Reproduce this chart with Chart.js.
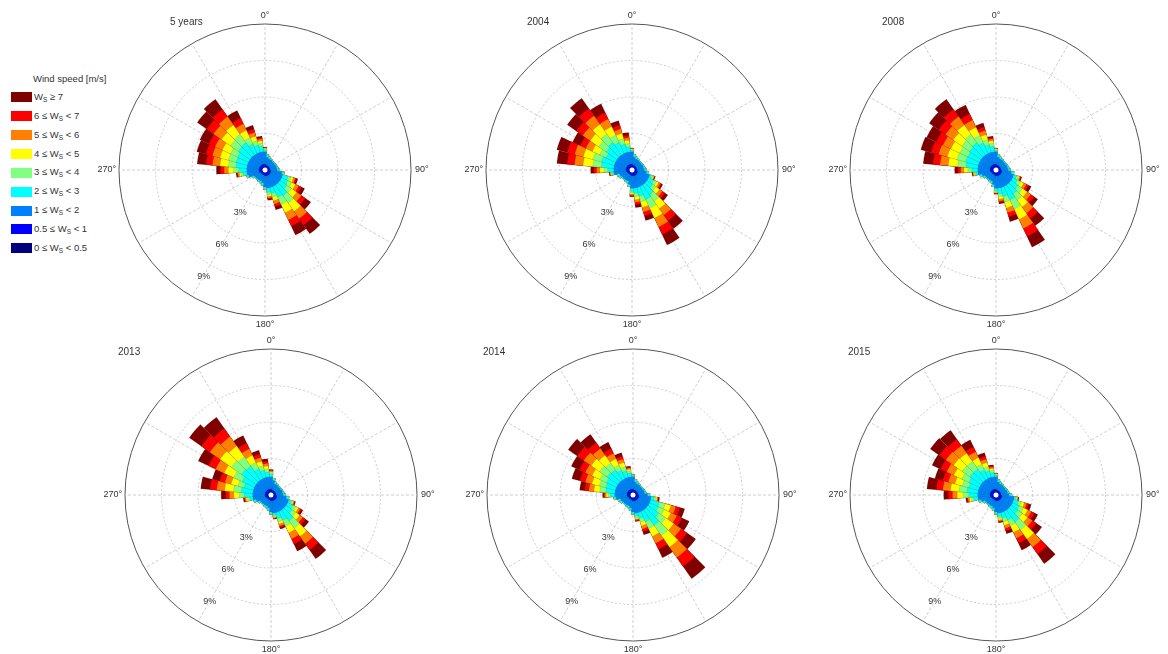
<!DOCTYPE html>
<html>
<head>
<meta charset="utf-8">
<script src="https://cdn.jsdelivr.net/npm/chart.js@4.4.1/dist/chart.umd.min.js"></script>
<style>
  html, body { margin: 0; padding: 0; background: #fff; }
  body { width: 1168px; height: 654px; position: relative; overflow: hidden;
         font-family: "Liberation Sans", Arial, sans-serif; color: #333; }
  canvas.rose { position: absolute; }
  .title { position: absolute; font-size: 10px; color: #333; }
  #legend { position: absolute; left: 0; top: 0; font-size: 9.5px; color: #333; }
  #legend .head { position: absolute; left: 33px; top: 73px; white-space: nowrap; }
  #legend .row { position: absolute; left: 11px; white-space: nowrap; height: 12px; line-height: 12px; }
  #legend .sw { display: inline-block; width: 21px; height: 10px; vertical-align: middle; margin-right: 2px; }
  #legend sub { font-size: 6.5px; vertical-align: -2px; }
</style>
</head>
<body>
<div id="legend"></div>
<script>
// direction bins (degrees, centred) and wind speed classes
const directions = [0,10,20,30,40,50,60,70,80,90,100,110,120,130,140,150,160,170,
                    180,190,200,210,220,230,240,250,260,270,280,290,300,310,320,330,340,350];
const speedLabels = ['0 ≤ W_S < 0.5','0.5 ≤ W_S < 1','1 ≤ W_S < 2','2 ≤ W_S < 3','3 ≤ W_S < 4',
                     '4 ≤ W_S < 5','5 ≤ W_S < 6','6 ≤ W_S < 7','W_S ≥ 7'];
const speedColors = ['#00007f','#0000ff','#0080ff','#00ffff','#80ff80','#ffff00','#ff8000','#ff0000','#800000'];
const freqTicks = [3, 6, 9];
const angleTicks = [0, 90, 180, 270];
const spokeAngles = [0,30,60,90,120,150,180,210,240,270,300,330];

// frequency [%] per direction bin (rows, 0..350 deg) and speed class (columns, low -> high)
const fiveYears = [
  [.15,.35,1,.14,.08,.06,.05,.04,.03], [.12,.3,.65,.18,.05,0,0,0,0], [.12,.28,.55,.15,.05,0,0,0,0],
  [.12,.28,.55,.1,0,0,0,0,0], [.12,.28,.5,.1,0,0,0,0,0], [.12,.28,.5,.1,0,0,0,0,0],
  [.12,.28,.5,.1,0,0,0,0,0], [.12,.28,.55,.1,0,0,0,0,0], [.12,.28,.55,.15,0,0,0,0,0],
  [.12,.28,.6,.15,.05,0,0,0,0], [.15,.35,.9,.12,.05,.03,0,0,0], [.15,.35,1,.46,.26,.19,.16,.12,.11],
  [.15,.35,1,.55,.36,.36,.29,.25,.29], [.15,.35,1,.68,.47,.53,.47,.4,.55], [.15,.35,1,1.08,.74,.83,.74,.64,.87],
  [.15,.35,1,.97,.66,.75,.66,.57,.79], [.15,.35,1,.49,.32,.32,.27,.23,.27], [.15,.35,1,.35,.2,.15,.12,.09,.09],
  [.15,.35,.9,.12,.05,.03,0,0,0], [.12,.3,.65,.18,.05,0,0,0,0], [.12,.28,.55,.15,.05,0,0,0,0],
  [.12,.28,.55,.15,0,0,0,0,0], [.12,.28,.55,.1,0,0,0,0,0], [.12,.28,.55,.1,0,0,0,0,0],
  [.12,.28,.6,.15,.05,0,0,0,0], [.15,.35,.9,.12,.05,.03,0,0,0], [.15,.35,1,.32,.18,.13,.11,.08,.08],
  [.15,.35,1,.65,.43,.43,.35,.3,.34], [.15,.35,1,.9,.62,.7,.62,.53,.73], [.15,.35,1,.95,.65,.73,.65,.56,.76],
  [.15,.35,1,.97,.66,.75,.66,.57,.79], [.15,.35,1,1.17,.8,.9,.8,.69,.94], [.15,.35,1,1.23,.84,.95,.84,.73,1.01],
  [.15,.35,1,.86,.59,.66,.59,.51,.69], [.15,.35,1,.6,.39,.39,.32,.28,.32], [.15,.35,1,.46,.26,.19,.16,.12,.11]
];
const year2004 = [
  [.15,.35,1,.12,.07,.05,.03,.02,.01], [.12,.3,.65,.18,.05,0,0,0,0], [.12,.28,.55,.15,.05,0,0,0,0],
  [.12,.28,.55,.1,0,0,0,0,0], [.12,.28,.5,.1,0,0,0,0,0], [.12,.28,.5,.1,0,0,0,0,0],
  [.12,.28,.5,.1,0,0,0,0,0], [.12,.28,.55,.1,0,0,0,0,0], [.12,.28,.55,.15,0,0,0,0,0],
  [.12,.28,.6,.15,.05,0,0,0,0], [.13,.32,.75,.15,.05,0,0,0,0], [.15,.35,1,.18,.1,.08,.06,.04,.04],
  [.15,.35,1,.46,.26,.19,.16,.12,.11], [.15,.35,1,.55,.36,.36,.29,.25,.29], [.15,.35,1,.97,.66,.75,.66,.57,.79],
  [.15,.35,1,1.17,.8,.9,.8,.69,.94], [.15,.35,1,.73,.48,.48,.39,.34,.38], [.15,.35,1,.42,.27,.27,.22,.19,.23],
  [.15,.35,1,.25,.14,.1,.08,.07,.06], [.13,.32,.75,.15,.05,0,0,0,0], [.12,.28,.55,.15,.05,0,0,0,0],
  [.12,.28,.55,.15,0,0,0,0,0], [.12,.28,.55,.1,0,0,0,0,0], [.12,.28,.55,.1,0,0,0,0,0],
  [.12,.28,.6,.15,.05,0,0,0,0], [.12,.3,.65,.18,.05,0,0,0,0], [.15,.35,1,.14,.08,.06,.05,.04,.03],
  [.15,.35,1,.49,.32,.32,.27,.23,.27], [.15,.35,1,1.03,.71,.8,.71,.61,.84], [.15,.35,1,1.08,.74,.83,.74,.64,.87],
  [.15,.35,1,.86,.59,.66,.59,.51,.69], [.15,.35,1,1.1,.75,.85,.75,.65,.9], [.15,.35,1,1.25,.86,.97,.86,.74,1.02],
  [.15,.35,1,.99,.68,.77,.68,.59,.79], [.15,.35,1,.7,.46,.46,.38,.32,.38], [.15,.35,1,.42,.27,.27,.22,.19,.23]
];
const year2008 = [
  [.15,.35,1,.12,.07,.05,.03,.02,.01], [.12,.3,.65,.18,.05,0,0,0,0], [.12,.28,.55,.15,.05,0,0,0,0],
  [.12,.28,.55,.1,0,0,0,0,0], [.12,.28,.5,.1,0,0,0,0,0], [.12,.28,.5,.1,0,0,0,0,0],
  [.12,.28,.5,.1,0,0,0,0,0], [.12,.28,.55,.1,0,0,0,0,0], [.12,.28,.55,.15,0,0,0,0,0],
  [.12,.28,.6,.15,.05,0,0,0,0], [.14,.33,.8,.18,.05,0,0,0,0], [.15,.35,1,.25,.14,.1,.08,.07,.06],
  [.15,.35,1,.44,.29,.29,.24,.2,.24], [.15,.35,1,.7,.46,.46,.38,.32,.38], [.15,.35,1,.9,.62,.7,.62,.53,.73],
  [.15,.35,1,1.21,.83,.94,.83,.72,.97], [.15,.35,1,.75,.49,.49,.41,.35,.41], [.15,.35,1,.46,.26,.19,.16,.12,.11],
  [.15,.35,1,.18,.1,.08,.06,.04,.04], [.13,.32,.75,.15,.05,0,0,0,0], [.12,.28,.55,.15,.05,0,0,0,0],
  [.12,.28,.55,.15,0,0,0,0,0], [.12,.28,.55,.1,0,0,0,0,0], [.12,.28,.55,.1,0,0,0,0,0],
  [.12,.28,.6,.15,.05,0,0,0,0], [.13,.32,.75,.15,.05,0,0,0,0], [.15,.35,1,.18,.1,.08,.06,.04,.04],
  [.15,.35,1,.49,.32,.32,.27,.23,.27], [.15,.35,1,.99,.68,.77,.68,.59,.79], [.15,.35,1,1.08,.74,.83,.74,.64,.87],
  [.15,.35,1,1.06,.72,.82,.72,.62,.86], [.15,.35,1,1.14,.78,.88,.78,.68,.94], [.15,.35,1,1.23,.84,.95,.84,.73,1.01],
  [.15,.35,1,.97,.66,.75,.66,.57,.79], [.15,.35,1,.65,.43,.43,.35,.3,.34], [.15,.35,1,.46,.26,.19,.16,.12,.11]
];
const year2013 = [
  [.15,.35,1,.21,.12,.09,.07,.06,.05], [.13,.32,.75,.15,.05,0,0,0,0], [.12,.28,.55,.15,.05,0,0,0,0],
  [.12,.28,.55,.1,0,0,0,0,0], [.12,.28,.5,.1,0,0,0,0,0], [.12,.28,.5,.1,0,0,0,0,0],
  [.12,.28,.5,.1,0,0,0,0,0], [.12,.28,.55,.1,0,0,0,0,0], [.12,.28,.55,.15,0,0,0,0,0],
  [.12,.28,.6,.15,.05,0,0,0,0], [.14,.33,.8,.18,.05,0,0,0,0], [.15,.35,1,.21,.12,.09,.07,.06,.05],
  [.15,.35,1,.49,.28,.21,.17,.13,.12], [.15,.35,1,.6,.39,.39,.32,.28,.32], [.15,.35,1,1.08,.74,.83,.74,.64,.87],
  [.15,.35,1,.79,.54,.61,.54,.47,.65], [.15,.35,1,.49,.28,.21,.17,.13,.12], [.15,.35,1,.18,.1,.08,.06,.04,.04],
  [.15,.35,.9,.12,.05,.03,0,0,0], [.12,.3,.65,.18,.05,0,0,0,0], [.12,.28,.55,.15,.05,0,0,0,0],
  [.12,.28,.55,.15,0,0,0,0,0], [.12,.28,.55,.1,0,0,0,0,0], [.12,.28,.55,.1,0,0,0,0,0],
  [.12,.28,.6,.15,.05,0,0,0,0], [.14,.33,.8,.18,.05,0,0,0,0], [.15,.35,1,.28,.16,.12,.1,.07,.07],
  [.15,.35,1,.68,.44,.44,.36,.31,.37], [.15,.35,1,.95,.65,.73,.65,.56,.76], [.15,.35,1,.77,.53,.6,.53,.45,.62],
  [.15,.35,1,1.12,.77,.87,.77,.66,.91], [.15,.35,1,1.47,1.01,1.14,1.01,.87,1.2], [.15,.35,1,1.39,.95,1.07,.95,.82,1.12],
  [.15,.35,1,.86,.59,.66,.59,.51,.69], [.15,.35,1,.6,.39,.39,.32,.28,.32], [.15,.35,1,.39,.26,.25,.21,.18,.21]
];
const year2014 = [
  [.15,.35,1,.1,.05,.03,.02,0,0], [.12,.3,.65,.18,.05,0,0,0,0], [.12,.28,.55,.15,.05,0,0,0,0],
  [.12,.28,.55,.1,0,0,0,0,0], [.12,.28,.5,.1,0,0,0,0,0], [.12,.28,.5,.1,0,0,0,0,0],
  [.12,.28,.5,.1,0,0,0,0,0], [.12,.28,.55,.1,0,0,0,0,0], [.12,.28,.55,.15,0,0,0,0,0],
  [.13,.32,.75,.15,.05,0,0,0,0], [.15,.35,1,.25,.14,.1,.08,.07,.06], [.15,.35,1,.75,.49,.49,.41,.35,.41],
  [.15,.35,1,.79,.54,.61,.54,.47,.65], [.15,.35,1,1.06,.72,.82,.72,.62,.86], [.15,.35,1,1.52,1.04,1.17,1.04,.9,1.23],
  [.15,.35,1,.92,.63,.71,.63,.55,.76], [.15,.35,1,.49,.32,.32,.27,.23,.27], [.15,.35,1,.25,.14,.1,.08,.07,.06],
  [.15,.35,.9,.12,.05,.03,0,0,0], [.12,.3,.65,.18,.05,0,0,0,0], [.12,.28,.55,.15,.05,0,0,0,0],
  [.12,.28,.55,.15,0,0,0,0,0], [.12,.28,.55,.1,0,0,0,0,0], [.12,.28,.55,.1,0,0,0,0,0],
  [.12,.28,.6,.15,.05,0,0,0,0], [.12,.3,.65,.18,.05,0,0,0,0], [.15,.35,.9,.12,.05,.03,0,0,0],
  [.15,.35,1,.35,.2,.15,.12,.09,.09], [.15,.35,1,.75,.49,.49,.41,.35,.41], [.15,.35,1,.81,.56,.63,.56,.48,.66],
  [.15,.35,1,.9,.62,.7,.62,.53,.73], [.15,.35,1,1.1,.75,.85,.75,.65,.9], [.15,.35,1,1.01,.69,.78,.69,.6,.83],
  [.15,.35,1,.73,.5,.56,.5,.43,.58], [.15,.35,1,.55,.36,.36,.29,.25,.29], [.15,.35,1,.32,.18,.13,.11,.08,.08]
];
const year2015 = [
  [.15,.35,1,.12,.07,.05,.03,.02,.01], [.12,.3,.65,.18,.05,0,0,0,0], [.12,.28,.55,.15,.05,0,0,0,0],
  [.12,.28,.55,.1,0,0,0,0,0], [.12,.28,.5,.1,0,0,0,0,0], [.12,.28,.5,.1,0,0,0,0,0],
  [.12,.28,.5,.1,0,0,0,0,0], [.12,.28,.55,.1,0,0,0,0,0], [.12,.28,.55,.15,0,0,0,0,0],
  [.12,.3,.65,.18,.05,0,0,0,0], [.15,.35,1,.14,.08,.06,.05,.04,.03], [.15,.35,1,.39,.26,.25,.21,.18,.21],
  [.15,.35,1,.6,.39,.39,.32,.28,.32], [.15,.35,1,.68,.47,.53,.47,.4,.55], [.15,.35,1,1.19,.81,.92,.81,.7,.97],
  [.15,.35,1,.77,.53,.6,.53,.45,.62], [.15,.35,1,.47,.31,.31,.25,.22,.24], [.15,.35,1,.28,.16,.12,.1,.07,.07],
  [.15,.35,.9,.12,.05,.03,0,0,0], [.12,.3,.65,.18,.05,0,0,0,0], [.12,.28,.55,.15,.05,0,0,0,0],
  [.12,.28,.55,.15,0,0,0,0,0], [.12,.28,.55,.1,0,0,0,0,0], [.12,.28,.55,.1,0,0,0,0,0],
  [.12,.28,.6,.15,.05,0,0,0,0], [.14,.33,.8,.18,.05,0,0,0,0], [.15,.35,1,.35,.2,.15,.12,.09,.09],
  [.15,.35,1,.73,.48,.48,.39,.34,.38], [.15,.35,1,.92,.63,.71,.63,.55,.76], [.15,.35,1,.81,.56,.63,.56,.48,.66],
  [.15,.35,1,.95,.65,.73,.65,.56,.76], [.15,.35,1,1.12,.77,.87,.77,.66,.91], [.15,.35,1,1.1,.75,.85,.75,.65,.9],
  [.15,.35,1,.77,.53,.6,.53,.45,.62], [.15,.35,1,.55,.36,.36,.29,.25,.29], [.15,.35,1,.35,.2,.15,.12,.09,.09]
];

// legend (highest class on top)
var legend = document.getElementById('legend');
var html = '<div class="head">Wind speed [m/s]</div>';
for (var i = 0; i < speedLabels.length; i++) {
  var k = speedLabels.length - 1 - i;
  var txt = speedLabels[k].replace('W_S', 'W<sub>S</sub>');
  html += '<div class="row" style="top:' + (91 + i * 18.85).toFixed(1) + 'px">' +
          '<span class="sw" style="background:' + speedColors[k] + '"></span>' + txt + '</div>';
}
legend.innerHTML = html;

// grid spokes, centre dot, angle and frequency labels
const roseDecor = {
  id: 'roseDecor',
  beforeDatasetsDraw(chart) {
    const r = chart.scales.r, ctx = chart.ctx, R = r.drawingArea;
    ctx.save();
    ctx.strokeStyle = '#c2c2c2';
    ctx.lineWidth = 0.8;
    ctx.setLineDash([3, 2]);
    spokeAngles.forEach(function (a) {
      const t = a * Math.PI / 180;
      ctx.beginPath();
      ctx.moveTo(r.xCenter, r.yCenter);
      ctx.lineTo(r.xCenter + R * Math.sin(t), r.yCenter - R * Math.cos(t));
      ctx.stroke();
    });
    ctx.restore();
  },
  afterDatasetsDraw(chart) {
    const r = chart.scales.r, ctx = chart.ctx, R = r.drawingArea;
    const x0 = r.xCenter, y0 = r.yCenter;
    ctx.save();
    ctx.fillStyle = '#fff';
    ctx.beginPath();
    ctx.arc(x0, y0, 2.5, 0, Math.PI * 2);
    ctx.fill();
    ctx.fillStyle = '#333';
    ctx.font = '9px "Liberation Sans", Arial, sans-serif';
    ctx.textBaseline = 'middle';
    angleTicks.forEach(function (a) {
      const lab = a + '°';
      if (a === 0) { ctx.textAlign = 'center'; ctx.fillText(lab, x0, y0 - R - 8); }
      if (a === 180) { ctx.textAlign = 'center'; ctx.fillText(lab, x0, y0 + R + 9); }
      if (a === 90) { ctx.textAlign = 'left'; ctx.fillText(lab, x0 + R + 4, y0); }
      if (a === 270) { ctx.textAlign = 'right'; ctx.fillText(lab, x0 - R - 3, y0); }
    });
    ctx.textAlign = 'center';
    const t = 210 * Math.PI / 180;
    freqTicks.forEach(function (v) {
      const d = r.getDistanceFromCenterForValue(v) + 13;
      ctx.fillText(v + '%', x0 + d * Math.sin(t), y0 - d * Math.cos(t));
    });
    ctx.restore();
  }
};

function makeRose(title, table, cx, cy, titleX, titleY) {
  var cv = document.createElement('canvas');
  cv.className = 'rose';
  cv.width = 380; cv.height = 330;
  cv.style.left = (cx - 190) + 'px';
  cv.style.top = (cy - 165) + 'px';
  document.body.appendChild(cv);

  var t = document.createElement('div');
  t.className = 'title';
  t.textContent = title;
  t.style.left = titleX + 'px';
  t.style.top = titleY + 'px';
  document.body.appendChild(t);

  // stacked wind rose: each class drawn as cumulative wedge, lowest class on top
  var datasets = speedColors.map(function (col, k) {
    return {
      label: speedLabels[k],
      data: table.map(function (row) {
        return row.slice(0, k + 1).reduce(function (a, b) { return a + b; }, 0);
      }),
      backgroundColor: col,
      borderColor: 'rgba(0,0,0,0.18)',
      borderWidth: 0.5
    };
  });

  new Chart(cv, {
    type: 'polarArea',
    data: { labels: directions, datasets: datasets },
    options: {
      responsive: false,
      animation: false,
      events: [],
      layout: { padding: { left: 44, right: 44, top: 19, bottom: 19 } },
      plugins: { legend: { display: false }, tooltip: { enabled: false } },
      scales: {
        r: {
          min: 0, max: 12,
          startAngle: -5,
          ticks: { stepSize: 3, display: false },
          angleLines: { display: false },
          pointLabels: { display: false },
          grid: {
            circular: true,
            color: function (c) { return c.tick && c.tick.value === 12 ? '#555' : '#c2c2c2'; },
            lineWidth: function (c) { return c.tick && c.tick.value === 12 ? 1 : 0.8; }
          },
          border: { dash: function (c) { return c.tick && c.tick.value === 12 ? [] : [2, 2]; } }
        }
      }
    },
    plugins: [roseDecor]
  });
}

makeRose('5 years', fiveYears, 265, 170, 170, 16);
makeRose('2004', year2004, 632, 170, 527, 16);
makeRose('2008', year2008, 996, 170, 882, 16);
makeRose('2013', year2013, 271, 495, 118, 346);
makeRose('2014', year2014, 633, 495, 483, 346);
makeRose('2015', year2015, 996, 495, 848, 346);
</script>
</body>
</html>
